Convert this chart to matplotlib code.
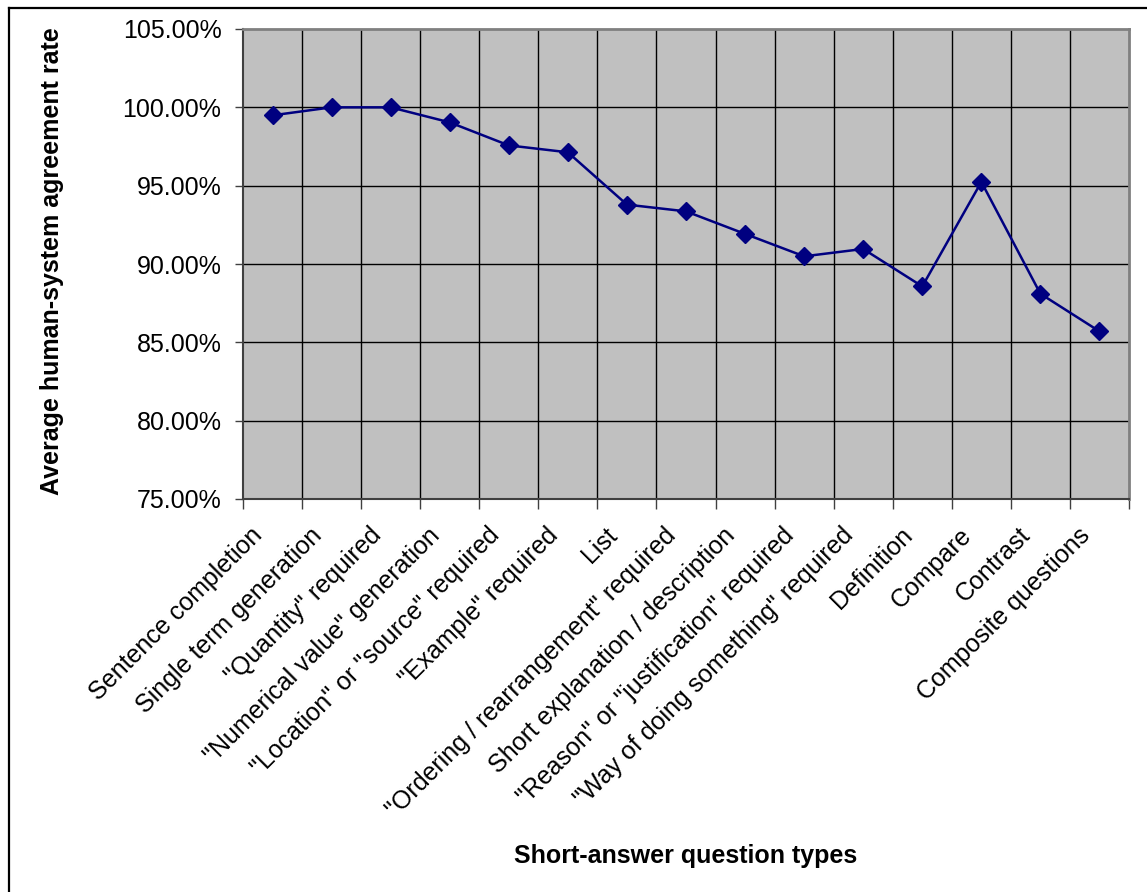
import matplotlib
matplotlib.use("Agg")
import matplotlib.pyplot as plt
import matplotlib.transforms as mtransforms
from matplotlib.lines import Line2D
from matplotlib.ticker import FixedLocator, FuncFormatter

plt.rcParams["font.family"] = ["Liberation Sans", "DejaVu Sans"]

categories = [
    "Sentence completion",
    "Single term generation",
    '"Quantity" required',
    '"Numerical value" generation',
    '"Location" or "source" required',
    '"Example" required',
    "List",
    '"Ordering / rearrangement" required',
    "Short explanation / description",
    '"Reason" or "justification" required',
    '"Way of doing something" required',
    "Definition",
    "Compare",
    "Contrast",
    "Composite questions",
]
agreement = [0.9949, 1.0000, 1.0000, 0.9904, 0.9757, 0.9713, 0.9379, 0.9336,
             0.9192, 0.9049, 0.9096, 0.8857, 0.9524, 0.8810, 0.8570]
y_ticks = [0.75, 0.80, 0.85, 0.90, 0.95, 1.00, 1.05]

W, H = 1147, 892
fig = plt.figure(figsize=(W / 100, H / 100), dpi=100)
fig.patch.set_facecolor("white")

# chart-area frame (left and top edges)
fig.add_artist(Line2D([8.5 / W, 8.5 / W], [0, 1 - 8 / H], transform=fig.transFigure,
                      color="black", lw=1.6))
fig.add_artist(Line2D([8.5 / W, 1], [1 - 8 / H, 1 - 8 / H], transform=fig.transFigure,
                      color="black", lw=1.6))

left, right, top, bottom = 243, 1129, 29, 499
ax = fig.add_axes([left / W, 1 - bottom / H, (right - left) / W, (bottom - top) / H])
ax.set_facecolor("#C0C0C0")

n = len(categories)
x = list(range(n))
ax.set_xlim(-0.5, n - 0.5)
ax.set_ylim(0.75, 1.05)

# grid
for yv in y_ticks[1:-1]:
    ax.axhline(yv, color="black", lw=1.0, zorder=1)
for i in range(n - 1):
    ax.axvline(i + 0.5, color="black", lw=1.0, zorder=1)

ax.plot(x, agreement, color="#000080", lw=1.8, marker="D", markersize=9.5,
        markerfacecolor="#000080", markeredgecolor="#000080", zorder=3)

ax.yaxis.set_major_locator(FixedLocator(y_ticks))
ax.yaxis.set_major_formatter(FuncFormatter(lambda v, p: f"{v * 100:.2f}%"))
ax.tick_params(axis="y", direction="out", length=6, width=1, color="#404040",
               labelsize=18, pad=9.5)

ax.xaxis.set_major_locator(FixedLocator([i - 0.5 for i in range(n + 1)]))
ax.tick_params(axis="x", which="major", direction="out", length=7, width=1,
               color="#404040", labelbottom=False)
ax.set_xticks(x, minor=True)
ax.tick_params(axis="x", which="minor", length=0, labelsize=18, pad=0)
ax.set_xticklabels(categories, minor=True, rotation=45, ha="right", va="top",
                   rotation_mode="anchor")
shift = mtransforms.ScaledTranslation(-22 / 100, -24 / 100, fig.dpi_scale_trans)
for lbl in ax.get_xticklabels(minor=True):
    lbl.set_transform(lbl.get_transform() + shift)

for s in ("top", "right"):
    ax.spines[s].set_color("#808080")
    ax.spines[s].set_linewidth(2)
for s in ("left", "bottom"):
    ax.spines[s].set_color("#404040")
    ax.spines[s].set_linewidth(1.5)

fig.text(52 / W, 1 - 261 / H, "Average human-system agreement rate", rotation=90,
         ha="center", va="center", fontsize=18, fontweight="bold")
fig.text(686 / W, 1 - 856 / H, "Short-answer question types",
         ha="center", va="center", fontsize=18, fontweight="bold")

fig.savefig("out.png", dpi=100)
